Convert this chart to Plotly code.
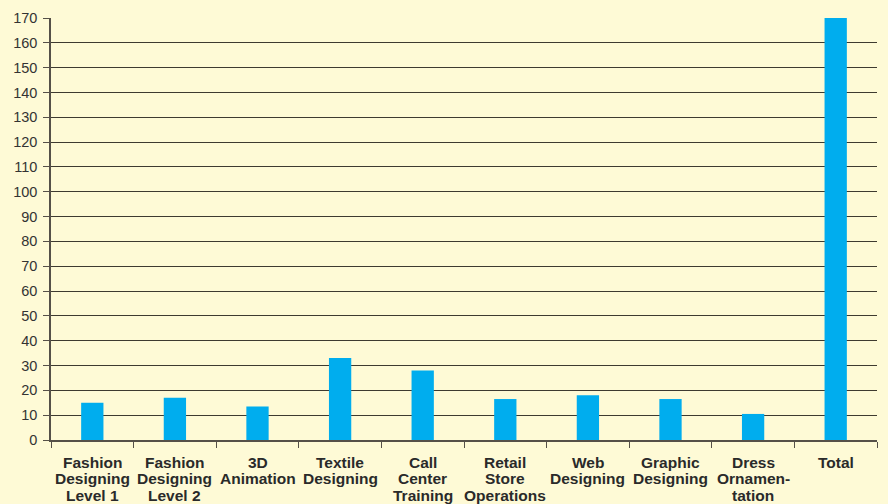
import plotly.graph_objects as go

categories = [
    "Fashion Designing Level 1",
    "Fashion Designing Level 2",
    "3D Animation",
    "Textile Designing",
    "Call Center Training",
    "Retail Store Operations",
    "Web Designing",
    "Graphic Designing",
    "Dress Ornamentation",
    "Total",
]
label_lines = [
    ["Fashion", "Designing", "Level 1"],
    ["Fashion", "Designing", "Level 2"],
    ["3D", "Animation"],
    ["Textile", "Designing"],
    ["Call", "Center", "Training"],
    ["Retail", "Store", "Operations"],
    ["Web", "Designing"],
    ["Graphic", "Designing"],
    ["Dress", "Ornamen-", "tation"],
    ["Total"],
]
values = [15, 17, 13.5, 33, 28, 16.5, 18, 16.5, 10.5, 170]
y_ticks = list(range(0, 171, 10))

bg = "#FEFAD6"
fig = go.Figure(go.Bar(
    x=categories, y=values, marker=dict(color="#00ADEE", line=dict(width=0)),
    width=0.27, hoverinfo="skip",
))
fig.update_layout(
    width=888, height=504,
    paper_bgcolor=bg, plot_bgcolor=bg,
    margin=dict(l=51, r=11, t=18, b=64, autoexpand=False),
    showlegend=False,
    font=dict(family="Liberation Sans, Arial", size=14, color="#2A2A2A"),
)
fig.update_yaxes(
    range=[0, 170], tickvals=y_ticks, showgrid=True, gridcolor="#3E3A30", gridwidth=1.3,
    showline=True, linecolor="#555048", linewidth=1.5,
    ticks="outside", ticklen=6, tickcolor="#555048", tickwidth=1.3,
    ticklabelstandoff=3,
    tickfont=dict(size=14.5, color="#333333"), zeroline=False, automargin=False,
)
fig.update_xaxes(
    showticklabels=False,
    showline=True, linecolor="#555048", linewidth=1.5,
    ticks="outside", tickson="boundaries", ticklen=6, tickcolor="#555048", tickwidth=1.3,
    showgrid=False, automargin=False,
)
for cat, lines in zip(categories, label_lines):
    for i, line in enumerate(lines):
        fig.add_annotation(
            x=cat, y=0, xref="x", yref="y", text="<b>" + line + "</b>",
            showarrow=False, yanchor="middle", xanchor="center",
            yshift=-(22 + 16.5 * i),
            font=dict(size=15.5, color="#2A2A2A", family="Liberation Sans, Arial"),
        )
fig.write_html(
    "out.html",
    config={"displayModeBar": False},
    post_script="document.body.style.margin='0';document.body.style.background='" + bg + "';",
)
